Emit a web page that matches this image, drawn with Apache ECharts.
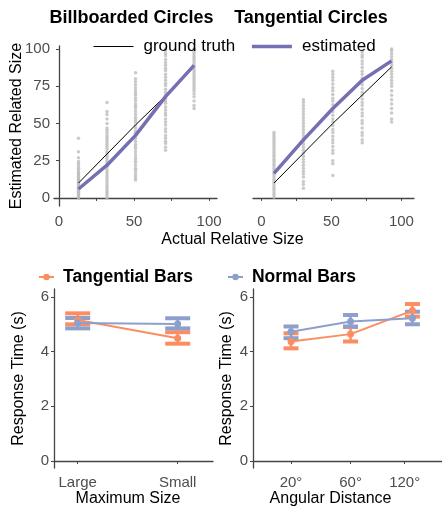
<!DOCTYPE html>
<html>
<head>
<meta charset="utf-8">
<script src="https://cdn.jsdelivr.net/npm/echarts@6/dist/echarts.min.js"></script>
<style>
html, body { margin: 0; padding: 0; background: #fff; }
#chart { width: 442px; height: 514px; }
</style>
</head>
<body>
<div id="chart"></div>
<script>
var FONT = 'Liberation Sans, Arial, sans-serif';

// top panels: estimated vs actual size
var sizeTicks = [0, 25, 50, 75, 100];
var sizeLabels = [0, 50, 100];

var bbX = [13, 32, 51, 71, 90];
var bbTruth = [10, 29.5, 49, 68.5, 88];
var bbEstimated = [6, 22, 42, 68, 89];
var bbCol1 = [0, 0.8, 1.5, 2.2, 3, 3.6, 4.4, 5, 5.8, 6.5, 7.1, 8, 8.7, 9.5, 10.2, 11, 12, 12.8, 13.5, 14.6, 15.5, 16.4, 17.5, 18.8, 20, 21.5, 23, 24.5, 27, 31, 40];
var bbCol2 = [0, 1.5, 3, 4.2, 5.5, 7, 8.4, 10, 11.5, 13, 14.6, 16, 17.5, 19, 20.8, 22, 23.6, 25, 26.5, 28, 29.5, 31, 32.8, 34.5, 36, 37.6, 39, 40.5, 42, 43.8, 45.5, 47, 50, 53, 56, 58, 64];
var bbCol3 = [12, 13.5, 15, 17, 18.6, 20, 22, 24, 25.5, 27, 29, 31, 33, 34.5, 36, 38, 40, 42, 43.5, 45, 47, 49, 51, 52.5, 54, 56, 58, 60, 61.5, 63, 65, 67, 69, 70.5, 72, 74, 76, 78, 80, 84];
var bbCol4 = [32, 34, 36.5, 38, 40, 42, 44.5, 46.5, 49, 51, 53, 55.5, 57, 59, 61, 63.5, 65, 67, 69, 71, 73, 75.5, 77, 79, 81, 83, 85.5, 87, 89, 91, 93, 95.5, 97, 99, 100];
var bbCol5 = [60, 62, 65, 68, 70, 72, 73.5, 75, 76.5, 78, 79.5, 81, 82.5, 84, 85.5, 87, 88.5, 90, 91.5, 93, 94.5, 96, 97.5, 99, 100];

var tcX = [9, 30, 51, 72, 93];
var tcTruth = [10, 30, 50, 69, 88];
var tcEstimated = [16.5, 39, 60, 79, 92];
var tcCol1 = [0.5, 2, 3.4, 5, 6.5, 8, 9.6, 11, 12.5, 14, 15.6, 17, 18.5, 20, 21.6, 23, 24.5, 26, 27.6, 29, 30.5, 32, 33.6, 35, 36.5, 38, 39.6, 41, 42.5, 44];
var tcCol2 = [6.5, 9, 11, 14, 16, 18, 20, 22, 24, 26, 28, 30, 32, 34, 36, 38, 40, 42, 44, 46, 48, 50, 52, 54, 56, 58, 60, 62, 64, 66];
var tcCol3 = [15, 23, 25, 30, 32, 34.5, 37, 39, 41.5, 44, 46, 48.5, 51, 53, 55.5, 58, 60, 62.5, 65, 67, 69.5, 72, 74, 76.5, 79, 81, 83, 85];
var tcCol4 = [37, 39, 42, 44, 47, 50, 52, 55, 57, 59.5, 62, 64, 66.5, 69, 71, 73.5, 76, 78, 80.5, 83, 85, 87.5, 90, 92, 94.5, 96, 98];
var tcCol5 = [51, 53, 57, 60, 63, 66, 69, 72, 75, 77, 79, 81, 83, 85, 87, 89, 91, 93, 95, 97, 99, 100];

// bottom panels: response time
var timeTicks = [0, 2, 4, 6];

var sizeCats = ['Large', 'Small'];
var sizeX = [1, 2];
var tangSizeMean = [5.16, 4.49];
var tangSizeLo = [5.0, 4.29];
var tangSizeHi = [5.40, 4.71];
var normSizeMean = [5.05, 5.01];
var normSizeLo = [4.85, 4.85];
var normSizeHi = [5.23, 5.22];

var angleCats = ['20°', '60°', '120°'];
var angleTicks = [1, 2, 2.91];
var angleX = [1, 2, 3.04];
var tangAngleMean = [4.37, 4.64, 5.50];
var tangAngleLo = [4.12, 4.37, 5.28];
var tangAngleHi = [4.67, 4.90, 5.74];
var normAngleMean = [4.73, 5.10, 5.22];
var normAngleLo = [4.49, 4.92, 5.00];
var normAngleHi = [4.92, 5.34, 5.46];

var ORANGE = '#fc8d62', BLUE = '#8da0cb', PURPLE = '#7570b3', GREY = '#bdbdbd';

function columns(xs, cols) {
    var out = [];
    cols.forEach(function (col, i) {
        col.forEach(function (v) { out.push([xs[i], v]); });
    });
    return out;
}
function pairs(xs, ys) {
    return xs.map(function (x, i) { return [x, ys[i]]; });
}
function triples(xs, lo, hi) {
    return xs.map(function (x, i) { return [x, lo[i], hi[i]]; });
}
function errorBars(color, capW) {
    return function (params, api) {
        var x = api.value(0);
        var lo = api.coord([x, api.value(1)]);
        var hi = api.coord([x, api.value(2)]);
        var h = capW / 2;
        return {
            type: 'group',
            children: [
                {type: 'line', shape: {x1: lo[0], y1: lo[1], x2: hi[0], y2: hi[1]}, style: {stroke: color, lineWidth: 2.5}},
                {type: 'line', shape: {x1: lo[0] - h, y1: lo[1], x2: lo[0] + h, y2: lo[1]}, style: {stroke: color, lineWidth: 4}},
                {type: 'line', shape: {x1: hi[0] - h, y1: hi[1], x2: hi[0] + h, y2: hi[1]}, style: {stroke: color, lineWidth: 4}}
            ]
        };
    };
}

var axisLine = {lineStyle: {color: '#444', width: 1.3}};
var tickLbl = {color: '#4d4d4d', fontSize: 15, fontFamily: FONT};

function xSize(grid, min, max) {
    return {
        type: 'value', gridIndex: grid, min: min, max: max,
        splitLine: {show: false}, axisLine: axisLine,
        axisTick: {length: 3, customValues: sizeTicks, lineStyle: {color: '#444'}},
        axisLabel: Object.assign({customValues: sizeLabels, margin: 8}, tickLbl)
    };
}
function yTime(grid, gap) {
    return {
        type: 'value', gridIndex: grid, min: -0.256, max: 6.29,
        splitLine: {show: false}, axisLine: Object.assign({show: true}, axisLine),
        axisTick: {show: true, length: 3, customValues: timeTicks, lineStyle: {color: '#444'}},
        axisLabel: Object.assign({customValues: timeTicks, margin: 5}, tickLbl),
        name: 'Response Time (s)', nameLocation: 'middle', nameGap: gap, nameMoveOverlap: false,
        nameTextStyle: {fontSize: 16, color: '#000', fontFamily: FONT}
    };
}

var chart = echarts.init(document.getElementById('chart'));

var option = {
    animation: false,
    textStyle: {fontFamily: FONT},
    title: [
        {text: 'Billboarded Circles', left: 126.5, top: 4, textAlign: 'center',
         textStyle: {fontSize: 18, fontWeight: 'bold', color: '#000', fontFamily: FONT}},
        {text: 'Tangential Circles', left: 306, top: 4, textAlign: 'center',
         textStyle: {fontSize: 18, fontWeight: 'bold', color: '#000', fontFamily: FONT}}
    ],
    legend: [
        {data: [
            {name: 'ground truth', itemStyle: {opacity: 0}, lineStyle: {width: 1}},
            {name: 'estimated', itemStyle: {opacity: 0}, lineStyle: {width: 3.5}}
         ],
         left: 93, top: 38, itemWidth: 40, itemHeight: 12, itemGap: 15,
         padding: 0, textStyle: {fontSize: 17, color: '#000', fontFamily: FONT, padding: [0, 0, 0, 5]}},
        {data: ['Tangential Bars', 'Normal Bars'], left: 38, top: 268, itemWidth: 15, itemHeight: 8, itemGap: 34,
         padding: 0, textStyle: {fontSize: 17.5, fontWeight: 'bold', color: '#000', fontFamily: FONT, padding: [0, 0, 0, 4]}}
    ],
    grid: [
        {left: 54, top: 46, width: 163, height: 160},
        {left: 253, top: 46, width: 161, height: 160},
        {left: 54, top: 289, width: 159, height: 179},
        {left: 253, top: 289, width: 189, height: 179}
    ],
    xAxis: [
        xSize(0, -3.33, 105.3),
        xSize(1, -6, 109),
        {
            type: 'value', gridIndex: 2, min: 0.763, max: 2.353,
            splitLine: {show: false}, axisLine: axisLine,
            axisTick: {length: 3, customValues: sizeX, lineStyle: {color: '#444'}},
            axisLabel: Object.assign({customValues: sizeX, margin: 7,
                formatter: function (v) { return sizeCats[sizeX.indexOf(v)]; }}, tickLbl)
        },
        {
            type: 'value', gridIndex: 3, min: 0.361, max: 3.537,
            splitLine: {show: false}, axisLine: axisLine,
            axisTick: {length: 3, customValues: angleTicks, lineStyle: {color: '#444'}},
            axisLabel: Object.assign({customValues: angleTicks, margin: 7,
                formatter: function (v) { return angleCats[angleTicks.indexOf(v)]; }}, tickLbl)
        }
    ],
    yAxis: [
        {
            type: 'value', gridIndex: 0, min: -5.4, max: 102,
            splitLine: {show: false}, axisLine: Object.assign({show: true}, axisLine),
            axisTick: {show: true, length: 3, customValues: sizeTicks, lineStyle: {color: '#444'}},
            axisLabel: Object.assign({customValues: sizeTicks, margin: 4}, tickLbl),
            name: 'Estimated Related Size', nameLocation: 'middle', nameGap: 29, nameMoveOverlap: false,
            nameTextStyle: {fontSize: 16, color: '#000', fontFamily: FONT}
        },
        {type: 'value', gridIndex: 1, min: -5.4, max: 102, show: false},
        yTime(2, 27),
        yTime(3, 18)
    ],
    graphic: [
        {type: 'text', x: 232.5, y: 240, style: {text: 'Actual Relative Size', font: '16px ' + FONT, fill: '#000',
            align: 'center', verticalAlign: 'middle', textAlign: 'center', textVerticalAlign: 'middle'}},
        {type: 'text', x: 128, y: 499, style: {text: 'Maximum Size', font: '16px ' + FONT, fill: '#000',
            align: 'center', verticalAlign: 'middle', textAlign: 'center', textVerticalAlign: 'middle'}},
        {type: 'text', x: 330.5, y: 499, style: {text: 'Angular Distance', font: '16px ' + FONT, fill: '#000',
            align: 'center', verticalAlign: 'middle', textAlign: 'center', textVerticalAlign: 'middle'}}
    ],
    series: [
        {name: 'bb points', type: 'scatter', xAxisIndex: 0, yAxisIndex: 0, symbolSize: 3.5, silent: true,
         itemStyle: {color: GREY}, data: columns(bbX, [bbCol1, bbCol2, bbCol3, bbCol4, bbCol5])},
        {name: 'ground truth', type: 'line', xAxisIndex: 0, yAxisIndex: 0, symbol: 'none',
         lineStyle: {color: '#000', width: 1}, itemStyle: {color: '#000'}, data: pairs(bbX, bbTruth)},
        {name: 'estimated', type: 'line', xAxisIndex: 0, yAxisIndex: 0, symbol: 'none',
         lineStyle: {color: PURPLE, width: 3.5}, itemStyle: {color: PURPLE}, data: pairs(bbX, bbEstimated)},

        {name: 'tc points', type: 'scatter', xAxisIndex: 1, yAxisIndex: 1, symbolSize: 3.5, silent: true,
         itemStyle: {color: GREY}, data: columns(tcX, [tcCol1, tcCol2, tcCol3, tcCol4, tcCol5])},
        {name: 'ground truth', type: 'line', xAxisIndex: 1, yAxisIndex: 1, symbol: 'none',
         lineStyle: {color: '#000', width: 1}, itemStyle: {color: '#000'}, data: pairs(tcX, tcTruth)},
        {name: 'estimated', type: 'line', xAxisIndex: 1, yAxisIndex: 1, symbol: 'none',
         lineStyle: {color: PURPLE, width: 3.5}, itemStyle: {color: PURPLE}, data: pairs(tcX, tcEstimated)},

        {name: 'Tangential Bars', type: 'line', xAxisIndex: 2, yAxisIndex: 2, symbol: 'circle', symbolSize: 7,
         lineStyle: {color: ORANGE, width: 2}, itemStyle: {color: ORANGE}, data: pairs(sizeX, tangSizeMean)},
        {name: 'tang size ci', type: 'custom', xAxisIndex: 2, yAxisIndex: 2, renderItem: errorBars(ORANGE, 25),
         encode: {x: 0, y: [1, 2]}, data: triples(sizeX, tangSizeLo, tangSizeHi)},
        {name: 'Normal Bars', type: 'line', xAxisIndex: 2, yAxisIndex: 2, symbol: 'circle', symbolSize: 7,
         lineStyle: {color: BLUE, width: 2}, itemStyle: {color: BLUE}, data: pairs(sizeX, normSizeMean)},
        {name: 'norm size ci', type: 'custom', xAxisIndex: 2, yAxisIndex: 2, renderItem: errorBars(BLUE, 25),
         encode: {x: 0, y: [1, 2]}, data: triples(sizeX, normSizeLo, normSizeHi)},

        {name: 'Tangential Bars', type: 'line', xAxisIndex: 3, yAxisIndex: 3, symbol: 'circle', symbolSize: 7,
         lineStyle: {color: ORANGE, width: 2}, itemStyle: {color: ORANGE}, data: pairs(angleX, tangAngleMean)},
        {name: 'tang angle ci', type: 'custom', xAxisIndex: 3, yAxisIndex: 3, renderItem: errorBars(ORANGE, 15),
         encode: {x: 0, y: [1, 2]}, data: triples(angleX, tangAngleLo, tangAngleHi)},
        {name: 'Normal Bars', type: 'line', xAxisIndex: 3, yAxisIndex: 3, symbol: 'circle', symbolSize: 7,
         lineStyle: {color: BLUE, width: 2}, itemStyle: {color: BLUE}, data: pairs(angleX, normAngleMean)},
        {name: 'norm angle ci', type: 'custom', xAxisIndex: 3, yAxisIndex: 3, renderItem: errorBars(BLUE, 15),
         encode: {x: 0, y: [1, 2]}, data: triples(angleX, normAngleLo, normAngleHi)}
    ]
};

chart.setOption(option);
</script>
</body>
</html>
